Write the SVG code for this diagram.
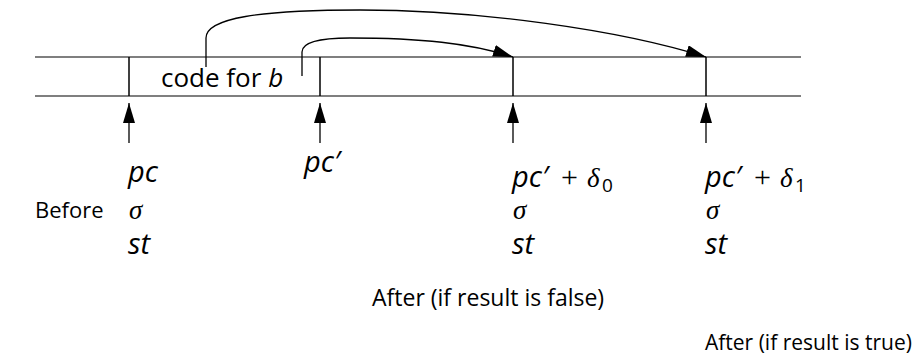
<svg xmlns="http://www.w3.org/2000/svg" width="918" height="358" viewBox="0 0 918 358">
<defs>
<marker id="ah" markerUnits="userSpaceOnUse" markerWidth="21" markerHeight="12" refX="20" refY="6" orient="auto">
<path d="M0,0 L20,6 L0,12 Z" fill="#000"/>
</marker>
</defs>
<style>
text{font-family:"Open Sans","Noto Sans",sans-serif;font-size:23px;fill:#000}
.code{font-size:26px}
.bef{font-size:22px}
.tru{font-size:21px}
.i{font-style:italic;font-size:29px}
.m{font-family:"Liberation Serif","DejaVu Serif",serif;font-style:italic;font-size:27px}
.p{font-family:"Liberation Serif","DejaVu Serif",serif;font-size:30px}
.sub{font-size:19px}
.conn{fill:none;stroke:#000;stroke-width:1.3}
.tape{stroke:#555;stroke-width:1.5}
.tick{stroke:#000;stroke-width:1.5}
</style>
<g id="tape">
<line class="tape" x1="35" y1="57" x2="801" y2="57"/>
<line class="tape" x1="35" y1="96" x2="801" y2="96"/>
<line class="tick" x1="129" y1="57" x2="129" y2="96"/>
<line class="tick" x1="320" y1="57" x2="320" y2="96"/>
<line class="tick" x1="513" y1="57" x2="513" y2="96"/>
<line class="tick" x1="706" y1="57" x2="706" y2="96"/>
<text class="code" x="161" y="87">code for <tspan font-style="italic">b</tspan></text>
</g>
<g id="connectors">
<path class="conn" d="M206,67 V38 C206,18 260,10 360,10 C480,10 620,30 706,57" marker-end="url(#ah)"/>
<path class="conn" d="M302,76 V52 C302,43 318,38 350,38 C420,38 470,43 513,57" marker-end="url(#ah)"/>
<line class="conn" x1="129" y1="143" x2="129" y2="103" marker-end="url(#ah)"/>
<line class="conn" x1="320" y1="143" x2="320" y2="103" marker-end="url(#ah)"/>
<line class="conn" x1="513" y1="143" x2="513" y2="103" marker-end="url(#ah)"/>
<line class="conn" x1="706" y1="143" x2="706" y2="103" marker-end="url(#ah)"/>
</g>
<g id="before">
<text class="bef" x="35" y="218">Before</text>
<text class="i" x="128" y="182">pc</text>
<text class="m" x="129" y="219">σ</text>
<text class="i" x="128" y="254">st</text>
</g>
<g id="pcprime">
<text class="i" x="304" y="172">pc′</text>
</g>
<g id="after-false">
<text class="i" x="512" y="187">pc′</text>
<text class="p" x="561" y="187">+</text>
<text class="m" x="587" y="187">δ</text>
<text class="sub" x="602" y="192">0</text>
<text class="m" x="513" y="219">σ</text>
<text class="i" x="512" y="254">st</text>
<text x="372" y="306">After (if result is false)</text>
</g>
<g id="after-true">
<text class="i" x="705" y="187">pc′</text>
<text class="p" x="754" y="187">+</text>
<text class="m" x="780" y="187">δ</text>
<text class="sub" x="795" y="192">1</text>
<text class="m" x="706" y="219">σ</text>
<text class="i" x="705" y="254">st</text>
<text class="tru" x="705" y="350">After (if result is true)</text>
</g>
</svg>
